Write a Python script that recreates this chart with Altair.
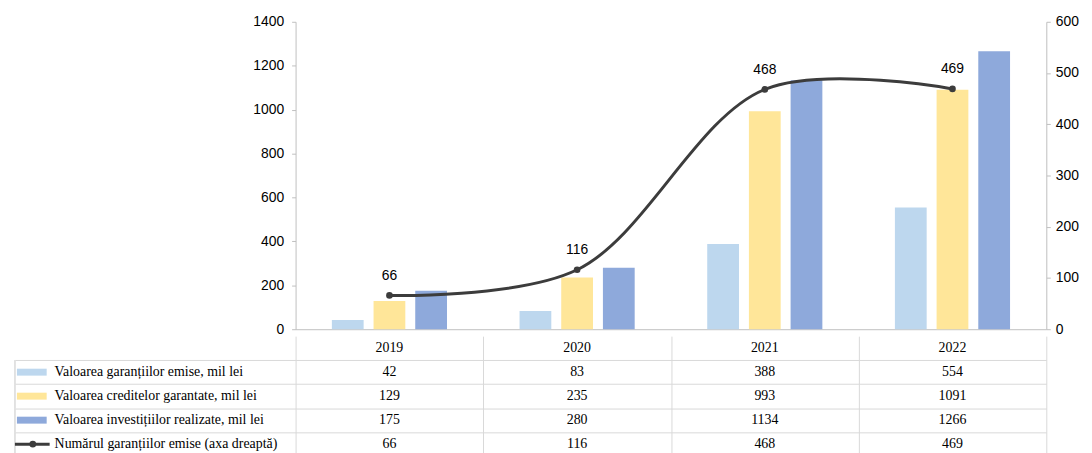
import altair as alt
import pandas as pd

years = ["2019", "2020", "2021", "2022"]
val_garantii = [42, 83, 388, 554]
val_credite = [129, 235, 993, 1091]
val_investitii = [175, 280, 1134, 1266]
nr_garantii = [66, 116, 468, 469]

s_gar = "Valoarea garanțiilor  emise, mil lei"
s_cred = "Valoarea creditelor garantate, mil lei"
s_inv = "Valoarea investițiilor  realizate,  mil lei"
s_nr = "Numărul garanțiilor  emise (axa dreaptă)"
bar_series = [s_gar, s_cred, s_inv]
all_series = [s_gar, s_cred, s_inv, s_nr]
bar_colors = ["#BDD7EE", "#FFE699", "#8EA9DB"]
line_color = "#3C3C3C"
grid_col = "#D9D9D9"

W = 757
H = 310
ROW_H = 24.2
YEAR_KEY = "_year"
rows_all = [YEAR_KEY] + all_series

bars_df = pd.DataFrame(
    [{"year": y, "series": s, "value": v}
     for s, vals in zip(bar_series, [val_garantii, val_credite, val_investitii])
     for y, v in zip(years, vals)]
)
line_df = pd.DataFrame({"year": years, "count": nr_garantii})

table_rows = []
for i, y in enumerate(years):
    table_rows.append({"year": y, "row": YEAR_KEY, "txt": y})
    for s, vals in zip(all_series, [val_garantii, val_credite, val_investitii, nr_garantii]):
        table_rows.append({"year": y, "row": s, "txt": str(vals[i])})
table_df = pd.DataFrame(table_rows)
labels_df = pd.DataFrame({"row": all_series})
bar_labels_df = pd.DataFrame({"row": bar_series})
line_label_df = pd.DataFrame({"row": [s_nr]})

x_scale = alt.Scale(domain=years, paddingInner=0, paddingOuter=0)

# ---------- top chart ----------
x_top = alt.X("year:N", scale=x_scale,
              axis=alt.Axis(labels=False, ticks=False, domainColor="#BFBFBF", title=None))

bars = alt.Chart(bars_df).mark_bar().encode(
    x=x_top,
    xOffset=alt.XOffset("series:N", scale=alt.Scale(domain=bar_series, paddingInner=0.238, paddingOuter=0.87)),
    y=alt.Y("value:Q", scale=alt.Scale(domain=[0, 1400]),
            axis=alt.Axis(values=list(range(0, 1401, 200)), format="d", grid=False, title=None,
                          domainColor="#BFBFBF", tickColor="#BFBFBF", tickSize=4,
                          labelFont="Liberation Sans", labelFontSize=14, labelColor="#000000",
                          labelPadding=8)),
    color=alt.Color("series:N", scale=alt.Scale(domain=bar_series, range=bar_colors), legend=None),
)

y_right = alt.Y("count:Q", scale=alt.Scale(domain=[0, 600]),
                axis=alt.Axis(orient="right", values=list(range(0, 601, 100)), format="d", grid=False,
                              title=None, domainColor="#BFBFBF", tickColor="#BFBFBF", tickSize=4,
                              labelFont="Liberation Sans", labelFontSize=14, labelColor="#000000",
                              labelPadding=5))
line = alt.Chart(line_df).mark_line(interpolate="catmull-rom", color=line_color, strokeWidth=3).encode(
    x=alt.X("year:N", scale=x_scale), y=y_right)
pts = alt.Chart(line_df).mark_point(filled=True, shape="circle", size=45, color=line_color, opacity=1).encode(
    x=alt.X("year:N", scale=x_scale), y=alt.Y("count:Q"))
lbl = alt.Chart(line_df).mark_text(dy=-20, font="Liberation Sans", fontSize=14, color="#000000").encode(
    x=alt.X("year:N", scale=x_scale), y=alt.Y("count:Q"), text="count:Q")

top = alt.layer(bars, alt.layer(line, pts, lbl)).resolve_scale(y="independent").properties(
    width=W, height=H, view=alt.ViewBackground(stroke=None))

# ---------- table ----------
y_tab = alt.Y("row:N", scale=alt.Scale(domain=rows_all, paddingInner=0, paddingOuter=0),
              axis=alt.Axis(values=all_series, labels=False, tickBand="extent", tickSize=283,
                            tickColor=grid_col, grid=True, gridColor=grid_col, domain=False, title=None))
x_tab = alt.X("year:N", scale=x_scale,
              axis=alt.Axis(labels=False, ticks=False, domain=False, grid=True, tickBand="extent",
                            gridColor=grid_col, title=None))

cells = alt.Chart(table_df).mark_text(font="Liberation Serif", fontSize=14, color="#000000").encode(
    x=x_tab, y=y_tab, text="txt:N")
row_labels = alt.Chart(labels_df).mark_text(align="left", font="Liberation Serif", fontSize=14,
                                            color="#000000").encode(
    x=alt.value(-243), y=alt.Y("row:N"), text="row:N")
left_border = alt.Chart(labels_df).mark_rect(stroke=grid_col, strokeWidth=1, fill=None).encode(
    x=alt.value(-283), x2=alt.value(-283), y=alt.Y("row:N"))
sym_bars = alt.Chart(bar_labels_df).mark_rule(strokeWidth=7).encode(
    x=alt.value(-281), x2=alt.value(-251), y=alt.Y("row:N"),
    color=alt.Color("row:N", scale=alt.Scale(domain=bar_series, range=bar_colors), legend=None))
sym_line = alt.Chart(line_label_df).mark_rule(strokeWidth=3, color=line_color).encode(
    x=alt.value(-283), x2=alt.value(-248), y=alt.Y("row:N"))
sym_pt = alt.Chart(line_label_df).mark_point(filled=True, shape="circle", size=45, color=line_color,
                                             opacity=1).encode(
    x=alt.value(-265), y=alt.Y("row:N"))

table = alt.layer(left_border, cells, row_labels, sym_bars, sym_line, sym_pt).properties(
    width=W, height=ROW_H * len(rows_all), view=alt.ViewBackground(stroke=None))

chart = alt.vconcat(top, table, spacing=0).resolve_scale(color="independent").configure(
    background="#FFFFFF")

chart.save("out.html", embed_options={"renderer": "svg", "actions": False})
